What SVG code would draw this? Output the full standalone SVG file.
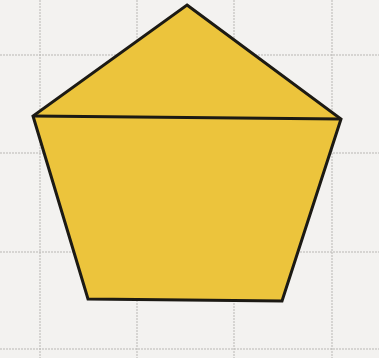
<svg xmlns="http://www.w3.org/2000/svg" width="379" height="358" viewBox="0 0 379 358">
<style>
.grid{stroke:#b9b7b4;stroke-width:1;stroke-dasharray:2 1;fill:none}
.shape{fill:#ecc43c;stroke:#1c1a14;stroke-width:3;stroke-linejoin:miter}
</style>
<rect x="0" y="0" width="379" height="358" fill="#f3f2f0"/>
<g id="grid">
<line class="grid" x1="40" y1="0" x2="40" y2="358"/>
<line class="grid" x1="137" y1="0" x2="137" y2="358"/>
<line class="grid" x1="234" y1="0" x2="234" y2="358"/>
<line class="grid" x1="332" y1="0" x2="332" y2="358"/>
<line class="grid" x1="0" y1="55" x2="379" y2="55"/>
<line class="grid" x1="0" y1="153" x2="379" y2="153"/>
<line class="grid" x1="0" y1="252" x2="379" y2="252"/>
<line class="grid" x1="0" y1="349" x2="379" y2="349"/>
</g>
<g id="pentagon">
<polygon class="shape" points="187,5 341,119 282,301 88,299 33,116"/>
<line x1="33" y1="116" x2="341" y2="119" stroke="#1c1a14" stroke-width="3"/>
</g>
</svg>
